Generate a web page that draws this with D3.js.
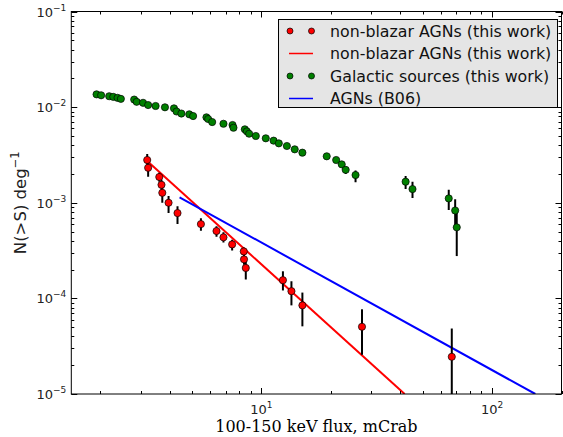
<!DOCTYPE html>
<html>
<head>
<meta charset="utf-8">
<script src="https://cdn.jsdelivr.net/npm/d3@7"></script>
<style>
  body { margin: 0; background: #fff; }
  svg { display: block; }
</style>
</head>
<body>
<div id="chart"></div>
<script>
// Galactic sources (this work)
var galX = [1.93, 2.02, 2.19, 2.28, 2.38, 2.46, 2.81, 2.88, 3.07, 3.23, 3.48, 3.82, 4.18, 4.29, 4.50,
  4.87, 5.06, 5.78, 5.88, 6.12, 6.85, 7.50, 7.57, 8.48, 8.65, 8.85, 9.46, 10.45, 11.3, 11.9, 12.9,
  13.95, 15.06, 19.2, 21.1, 22.3, 23.2, 25.6, 42.2, 45.2, 64.9, 69.2, 70.3];
var galY = [0.0136, 0.0133, 0.0130, 0.0128, 0.0125, 0.0122, 0.0120, 0.01136, 0.0111, 0.01051, 0.01028,
  0.00996, 0.00971, 0.0090, 0.00857, 0.00841, 0.00807, 0.00782, 0.00751, 0.00698, 0.0067, 0.0065,
  0.00609, 0.00586, 0.00558, 0.00527, 0.00499, 0.00472, 0.00446, 0.00418, 0.00392, 0.00362, 0.00334,
  0.00306, 0.0028, 0.00252, 0.00221, 0.00195, 0.00166, 0.00139, 0.00111, 0.00083, 0.000553];
// error bar bounds (only the last few stick out of the markers)
var galLo = galY.slice(0, 36).concat([0.00200, 0.00164, 0.00139, 0.00112, 0.00084, 0.000557, 0.000277]);
var galHi = galY.slice(0, 36).concat([0.00240, 0.00218, 0.00190, 0.00166, 0.00137, 0.00109, 0.00082]);

// non-blazar AGNs (this work)
var agnX = [3.20, 3.23, 3.61, 3.69, 3.72, 3.96, 4.33, 5.47, 6.39, 6.85, 7.47, 8.39, 8.41, 8.56,
  12.4, 13.5, 15.06, 27.3, 66.9];
var agnY = [0.0028, 0.00232, 0.00186, 0.00154, 0.00127, 0.0010, 0.00078, 0.000598, 0.000506, 0.000435,
  0.000367, 0.000310, 0.000256, 0.000208, 0.000155, 0.000119, 0.0000845, 0.0000505, 0.0000245];
var agnLo = [0.00243, 0.00187, 0.00166, 0.00134, 0.00100, 0.00078, 0.00060, 0.000511, 0.000441, 0.000385,
  0.000317, 0.000282, 0.000225, 0.000158, 0.000121, 0.0000845, 0.000051, 0.0000257, 0.000001];
var agnHi = [0.00323, 0.00277, 0.00206, 0.00174, 0.00150, 0.00118, 0.00092, 0.00069, 0.000568, 0.000492,
  0.00041, 0.00034, 0.00029, 0.00025, 0.000192, 0.000151, 0.000115, 0.0000769, 0.0000484];

// power-law fits
var fitX = [3.2, 41.8];
var fitY = [0.00273, 0.00001];
var b06X = [4.42, 154];
var b06Y = [0.00114, 0.00001];

var legendLabels = ["non-blazar AGNs (this work)", "non-blazar AGNs (this work)",
  "Galactic sources (this work)", "AGNs (B06)"];

var width = 563, height = 437;
var margin = { left: 71.3, right: 1.5, top: 11.5, bottom: 43 };

var svg = d3.select("#chart").append("svg")
  .attr("width", width)
  .attr("height", height);

var x = d3.scaleLog().domain([1.5, 200]).range([margin.left, width - margin.right]);
var y = d3.scaleLog().domain([1e-5, 1e-1]).range([height - margin.bottom, margin.top]);

svg.append("clipPath").attr("id", "clip")
  .append("rect")
  .attr("x", x.range()[0]).attr("y", y.range()[1])
  .attr("width", x.range()[1] - x.range()[0])
  .attr("height", y.range()[0] - y.range()[1]);

var plot = svg.append("g").attr("clip-path", "url(#clip)");

// lines
var line = d3.line().x(d => x(d[0])).y(d => y(d[1]));
plot.append("path").datum(d3.zip(fitX, fitY))
  .attr("d", line).attr("fill", "none").attr("stroke", "#ff0000").attr("stroke-width", 2);
plot.append("path").datum(d3.zip(b06X, b06Y))
  .attr("d", line).attr("fill", "none").attr("stroke", "#0000ff").attr("stroke-width", 2);

// error bars then markers
function drawSeries(xs, ys, lo, hi, color) {
  var pts = xs.map((v, i) => ({ x: v, y: ys[i], lo: lo[i], hi: hi[i] }));
  plot.append("g").selectAll("line").data(pts.filter(d => d.hi > d.lo)).join("line")
    .attr("x1", d => x(d.x)).attr("x2", d => x(d.x))
    .attr("y1", d => y(d.hi)).attr("y2", d => y(d.lo))
    .attr("stroke", "#000").attr("stroke-width", 2);
  plot.append("g").selectAll("circle").data(pts).join("circle")
    .attr("cx", d => x(d.x)).attr("cy", d => y(d.y))
    .attr("r", 3.6)
    .attr("fill", color).attr("stroke", "#000").attr("stroke-width", 0.7);
}
drawSeries(agnX, agnY, agnLo, agnHi, "#ff0000");
drawSeries(galX, galY, galLo, galHi, "#008000");

// ticks (inside, on all four sides)
var x0 = x.range()[0], x1 = x.range()[1], y0 = y.range()[0], y1 = y.range()[1];
var ticks = svg.append("g").attr("stroke", "#000").attr("stroke-width", 1);

var xMinor = [];
[1, 10, 100].forEach(dec => d3.range(1, 10).forEach(m => {
  var v = dec * m;
  if (v >= 1.5 && v <= 200) xMinor.push(v);
}));
xMinor.forEach(v => {
  var major = (v === 10 || v === 100);
  var len = major ? 6 : 3;
  var px = Math.round(x(v)) + 0.5;
  ticks.append("line").attr("x1", px).attr("x2", px).attr("y1", y0).attr("y2", y0 - len);
  ticks.append("line").attr("x1", px).attr("x2", px).attr("y1", y1).attr("y2", y1 + len);
});

var yMinor = [];
[1e-5, 1e-4, 1e-3, 1e-2].forEach(dec => d3.range(1, 10).forEach(m => yMinor.push(dec * m)));
yMinor.push(1e-1);
yMinor.forEach(v => {
  var major = Math.abs(Math.log10(v) - Math.round(Math.log10(v))) < 1e-6;
  var len = major ? 6 : 3;
  var py = Math.round(y(v)) + 0.5;
  ticks.append("line").attr("x1", x0).attr("x2", x0 + len).attr("y1", py).attr("y2", py);
  ticks.append("line").attr("x1", x1).attr("x2", x1 - len).attr("y1", py).attr("y2", py);
});

// frame
svg.append("rect")
  .attr("x", x0).attr("y", y1)
  .attr("width", x1 - x0).attr("height", y0 - y1)
  .attr("fill", "none").attr("stroke", "#000").attr("stroke-width", 1);

// tick labels
var font = "DejaVu Sans, sans-serif";
function powLabel(g, px, py, exp, anchor) {
  var t = g.append("text").attr("x", px).attr("y", py)
    .attr("text-anchor", anchor)
    .attr("font-family", font).attr("font-size", 13).attr("fill", "#222");
  t.append("tspan").text("10");
  t.append("tspan").attr("dy", -6).attr("font-size", 9).text(exp);
}
var labels = svg.append("g");
[10, 100].forEach(v => powLabel(labels, x(v), 414, String(Math.round(Math.log10(v))), "middle"));
[1e-5, 1e-4, 1e-3, 1e-2, 1e-1].forEach(v =>
  powLabel(labels, x0 - 5, y(v) + 5, "\u2212" + Math.round(-Math.log10(v)), "end"));

// axis titles
svg.append("text")
  .attr("x", (x0 + x1) / 2).attr("y", 432)
  .attr("text-anchor", "middle")
  .attr("font-family", "DejaVu Serif, serif").attr("font-size", 16)
  .text("100-150 keV flux, mCrab");

var yl = svg.append("text")
  .attr("transform", "translate(26," + ((y0 + y1) / 2) + ") rotate(-90)")
  .attr("text-anchor", "middle")
  .attr("font-family", font).attr("font-size", 16.5).attr("fill", "#222");
yl.append("tspan").text("N(>S) deg");
yl.append("tspan").attr("dy", -7).attr("font-size", 11.5).text("\u22121");

// legend
var leg = svg.append("g");
leg.append("rect")
  .attr("x", 278.5).attr("y", 19.5).attr("width", 279).attr("height", 88)
  .attr("fill", "#e5e5e5").attr("stroke", "#000").attr("stroke-width", 1);
var legColors = ["#ff0000", "#ff0000", "#008000", "#0000ff"];
var legKind = ["dot", "line", "dot", "line"];
legendLabels.forEach((lab, i) => {
  var cy = 31 + i * 22.5;
  if (legKind[i] === "dot") {
    [290, 311.5].forEach(cx => leg.append("circle")
      .attr("cx", cx).attr("cy", cy).attr("r", 3)
      .attr("fill", legColors[i]).attr("stroke", "#000").attr("stroke-width", 0.7));
  } else {
    leg.append("line").attr("x1", 289).attr("x2", 313).attr("y1", cy).attr("y2", cy)
      .attr("stroke", legColors[i]).attr("stroke-width", 1.5);
  }
  leg.append("text").attr("x", 330).attr("y", cy + 5.5)
    .attr("font-family", font).attr("font-size", 15.8).attr("fill", "#111")
    .text(lab);
});
</script>
</body>
</html>
